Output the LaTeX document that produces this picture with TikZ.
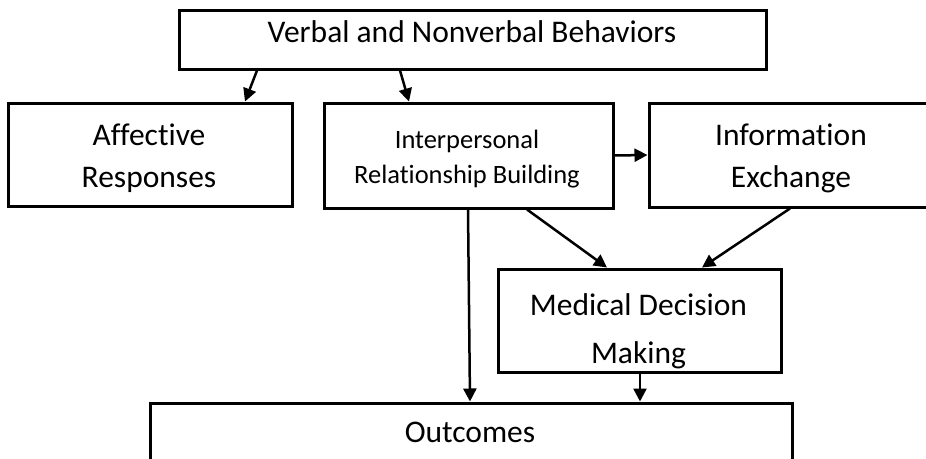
\documentclass[tikz,border=0pt]{standalone}
\usepackage{fontspec}
\setmainfont[Ligatures={NoCommon}]{Carlito}
\usetikzlibrary{arrows.meta,calc}
\begin{document}
\begin{tikzpicture}[x=1pt,y=-1pt,
  box/.style={draw=black,line width=3pt,minimum width=#1,inner sep=0pt,rectangle},
  lbl/.style={anchor=base,inner sep=0pt,text=black},
  conn/.style={line width=2.5pt,-{Triangle[length=13pt,width=13pt]}},
  big/.style={font=\fontsize{31.5}{36}\selectfont},
  mid/.style={font=\fontsize{26.5}{32}\selectfont}]
\useasboundingbox (0,0) rectangle (926,458);
\clip (0,0) rectangle (926,458);
\fill[white] (0,0) rectangle (926,458);
% boxes
\node[box=587pt,minimum height=59pt] (top) at (472.5,39.5) {};
\node[box=284pt,minimum height=103pt] (aff) at (150,154.5) {};
\node[box=289pt,minimum height=105pt] (int) at (468.5,155.5) {};
\node[box=284pt,minimum height=104pt] (inf) at (791,155) {};
\node[box=283pt,minimum height=103pt] (med) at (639.5,320.5) {};
\node[box=642pt,minimum height=58pt] (out) at (471,432) {};
% labels
\node[lbl,big] (topt) at (472,42) {Verbal and Nonverbal Behaviors};
\node[lbl,big] (afft1) at (149,145) {Affective};
\node[lbl,big] (afft2) at (149,187) {Responses};
\node[lbl,mid] (intt1) at (467,148) {Interpersonal};
\node[lbl,mid] (intt2) at (467,183) {Relationship Building};
\node[lbl,big] (inft1) at (791,145) {Information};
\node[lbl,big] (inft2) at (791,187) {Exchange};
\node[lbl,big] (medt1) at (638.5,315) {Medical Decision};
\node[lbl,big] (medt2) at (638.5,363) {Making};
\node[lbl,big] (outt) at (470,442) {Outcomes};
% connectors
\draw[conn] ([xshift=-215.5pt]top.south) -- ([xshift=95pt]aff.north);
\draw[conn] ([xshift=-72.5pt]top.south) -- ([xshift=-59.5pt]int.north);
\draw[conn] (int.east) -- (inf.west);
\draw[conn] ([xshift=58.5pt]int.south) -- ([xshift=-32.5pt]med.north);
\draw[conn] ([xshift=-1pt]inf.south) -- ([xshift=62.5pt]med.north);
\draw[conn] ([xshift=-0.5pt]int.south) -- ([xshift=-1pt]out.north);
\draw[conn] ([xshift=0.5pt]med.south) -- ([xshift=169pt]out.north);
\end{tikzpicture}
\end{document}
